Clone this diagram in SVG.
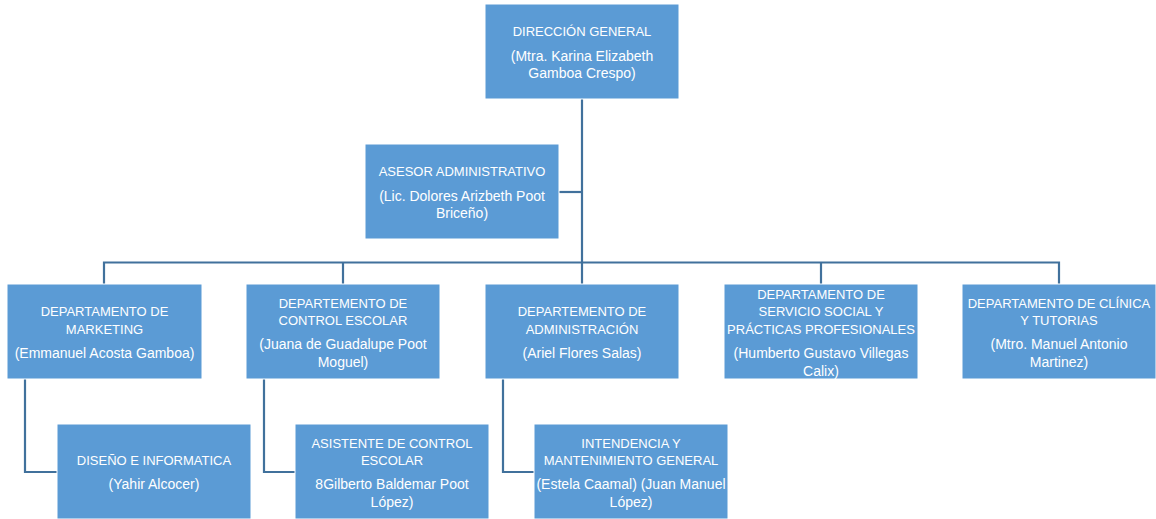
<svg xmlns="http://www.w3.org/2000/svg" width="1156" height="519" viewBox="0 0 1156 519">
<style>
.box{fill:#5B9BD5;stroke:#ffffff;stroke-width:1}
.t{font-family:"Liberation Sans",Arial,sans-serif;font-size:13px;fill:#ffffff;text-anchor:middle}
.n{font-family:"Liberation Sans",Arial,sans-serif;font-size:14px;fill:#ffffff;text-anchor:middle}
.c{fill:none;stroke:#41719C;stroke-width:2.2}
</style>
<rect width="1156" height="519" fill="#ffffff"/>
<g id="connectors">
<path class="c" d="M582 99 V263"/>
<path class="c" d="M559 192 H582"/>
<path class="c" d="M104 284 V262.5 H1059 V284"/>
<path class="c" d="M343 262.5 V284"/>
<path class="c" d="M582 262.5 V284"/>
<path class="c" d="M821 262.5 V284"/>
<path class="c" d="M25 379 V472 H57"/>
<path class="c" d="M264 379 V472 H295"/>
<path class="c" d="M503 379 V472 H534"/>
</g>
<g id="direccion">
<rect class="box" x="485" y="4" width="194" height="95"/>
<text class="t" x="582" y="36">DIRECCIÓN GENERAL</text>
<text class="n" x="582" y="60.5">(Mtra. Karina Elizabeth</text>
<text class="n" x="582" y="78">Gamboa Crespo)</text>
</g>
<g id="asesor">
<rect class="box" x="365" y="144" width="194" height="95"/>
<text class="t" x="462" y="176">ASESOR ADMINISTRATIVO</text>
<text class="n" x="462" y="200.5">(Lic. Dolores Arizbeth Poot</text>
<text class="n" x="462" y="218">Briceño)</text>
</g>
<g id="marketing">
<rect class="box" x="7" y="284" width="195" height="95"/>
<text class="t" x="104.5" y="316">DEPARTAMENTO DE</text>
<text class="t" x="104.5" y="333.5">MARKETING</text>
<text class="n" x="104.5" y="358">(Emmanuel Acosta Gamboa)</text>
</g>
<g id="control-escolar">
<rect class="box" x="246" y="284" width="194" height="95"/>
<text class="t" x="343" y="307.5">DEPARTEMENTO DE</text>
<text class="t" x="343" y="325">CONTROL ESCOLAR</text>
<text class="n" x="343" y="349">(Juana de Guadalupe Poot</text>
<text class="n" x="343" y="366.5">Moguel)</text>
</g>
<g id="administracion">
<rect class="box" x="485" y="284" width="194" height="95"/>
<text class="t" x="582" y="316">DEPARTEMENTO DE</text>
<text class="t" x="582" y="333.5">ADMINISTRACIÓN</text>
<text class="n" x="582" y="358">(Ariel Flores Salas)</text>
</g>
<g id="servicio-social">
<rect class="box" x="724" y="284" width="194" height="95"/>
<text class="t" x="821" y="298.5">DEPARTAMENTO DE</text>
<text class="t" x="821" y="316">SERVICIO SOCIAL Y</text>
<text class="t" x="821" y="333.5">PRÁCTICAS PROFESIONALES</text>
<text class="n" x="821" y="358">(Humberto Gustavo Villegas</text>
<text class="n" x="821" y="375.5">Calix)</text>
</g>
<g id="clinica">
<rect class="box" x="962" y="284" width="194" height="95"/>
<text class="t" x="1059" y="307.5">DEPARTAMENTO DE CLÍNICA</text>
<text class="t" x="1059" y="325">Y TUTORIAS</text>
<text class="n" x="1059" y="349">(Mtro. Manuel Antonio</text>
<text class="n" x="1059" y="366.5">Martinez)</text>
</g>
<g id="diseno">
<rect class="box" x="57" y="424" width="194" height="95"/>
<text class="t" x="154" y="464.5">DISEÑO E INFORMATICA</text>
<text class="n" x="154" y="489">(Yahir Alcocer)</text>
</g>
<g id="asistente">
<rect class="box" x="295" y="424" width="194" height="95"/>
<text class="t" x="392" y="447.5">ASISTENTE DE CONTROL</text>
<text class="t" x="392" y="465">ESCOLAR</text>
<text class="n" x="392" y="489">8Gilberto Baldemar Poot</text>
<text class="n" x="392" y="506.5">López)</text>
</g>
<g id="intendencia">
<rect class="box" x="534" y="424" width="194" height="95"/>
<text class="t" x="631" y="447.5">INTENDENCIA Y</text>
<text class="t" x="631" y="465">MANTENIMIENTO GENERAL</text>
<text class="n" x="631" y="489">(Estela Caamal) (Juan Manuel</text>
<text class="n" x="631" y="506.5">López)</text>
</g>
</svg>
